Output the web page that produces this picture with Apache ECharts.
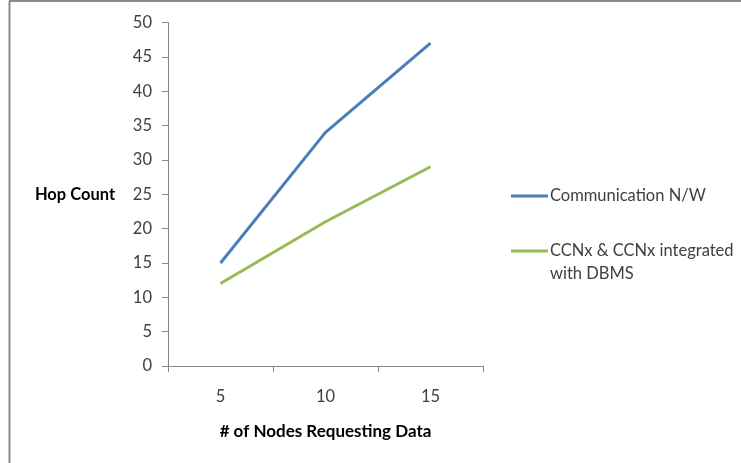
<!DOCTYPE html>
<html>
<head>
<meta charset="utf-8">
<style>
  html, body { margin: 0; padding: 0; background: #fff; }
  #chart { width: 741px; height: 463px; }
</style>
<script src="https://cdn.jsdelivr.net/npm/echarts@6/dist/echarts.min.js"></script>
</head>
<body>
<div id="chart"></div>
<script>
// Hop count versus number of nodes requesting data
const nodeCounts = ['5', '10', '15'];
const communicationNW = [15, 34, 47];
const ccnxWithDbms = [12, 21, 29];
const seriesNames = ['Communication N/W', 'CCNx & CCNx integrated\nwith DBMS'];

const FONT = 'Lato, "Open Sans", sans-serif';
const TEXT = '#404040';

const chart = echarts.init(document.getElementById('chart'), null, { renderer: 'canvas' });

chart.setOption({
  animation: false,
  backgroundColor: '#ffffff',
  textStyle: { fontFamily: FONT },
  grid: { left: 168, right: 258, top: 22.5, bottom: 97, containLabel: false },
  graphic: [
    // frame along the top and left edges
    { type: 'line', shape: { x1: 9, y1: 1, x2: 741, y2: 1 }, style: { stroke: '#8c8c8c', lineWidth: 2 }, silent: true },
    { type: 'line', shape: { x1: 9.5, y1: 1, x2: 9.5, y2: 463 }, style: { stroke: '#8c8c8c', lineWidth: 2 }, silent: true }
  ],
  legend: {
    orient: 'vertical',
    left: 511,
    top: 184.5,
    padding: 0,
    itemWidth: 37,
    itemHeight: 3,
    itemGap: 9,
    icon: 'rect',
    // leading blank line keeps the marker level with the first text line
    formatter: function (name) {
      return name.indexOf('\n') >= 0 ? '\n' + name : name;
    },
    textStyle: { fontFamily: FONT, fontSize: 16.5, color: TEXT, lineHeight: 23, padding: [0, 0, 0, -3] },
    data: seriesNames
  },
  xAxis: {
    type: 'category',
    data: nodeCounts,
    boundaryGap: true,
    name: '# of Nodes Requesting Data',
    nameLocation: 'middle',
    nameGap: 66,
    nameTextStyle: { fontFamily: FONT, fontSize: 17, fontWeight: 'bold', color: '#000', verticalAlign: 'middle' },
    axisLine: { lineStyle: { color: '#868686', width: 1 } },
    axisTick: { show: true, alignWithLabel: false, length: 6, lineStyle: { color: '#868686' } },
    axisLabel: { fontFamily: FONT, fontSize: 16.5, color: TEXT, margin: 22 },
    splitLine: { show: false }
  },
  yAxis: {
    type: 'value',
    min: 0,
    max: 50,
    interval: 5,
    name: 'Hop Count',
    nameLocation: 'middle',
    nameRotate: 0,
    nameGap: 93,
    nameTextStyle: { fontFamily: FONT, fontSize: 16.5, fontWeight: 'bold', color: '#000', align: 'center', verticalAlign: 'middle' },
    axisLine: { show: true, lineStyle: { color: '#868686', width: 1 } },
    axisTick: { show: true, length: 6, lineStyle: { color: '#868686' } },
    axisLabel: { fontFamily: FONT, fontSize: 16.5, color: TEXT, margin: 16 },
    splitLine: { show: false }
  },
  series: [
    {
      name: seriesNames[0],
      type: 'line',
      data: communicationNW,
      symbol: 'none',
      lineStyle: { color: '#4a7ebb', width: 3 },
      itemStyle: { color: '#4a7ebb' }
    },
    {
      name: seriesNames[1],
      type: 'line',
      data: ccnxWithDbms,
      symbol: 'none',
      lineStyle: { color: '#98b954', width: 3 },
      itemStyle: { color: '#98b954' }
    }
  ]
});
</script>
</body>
</html>
